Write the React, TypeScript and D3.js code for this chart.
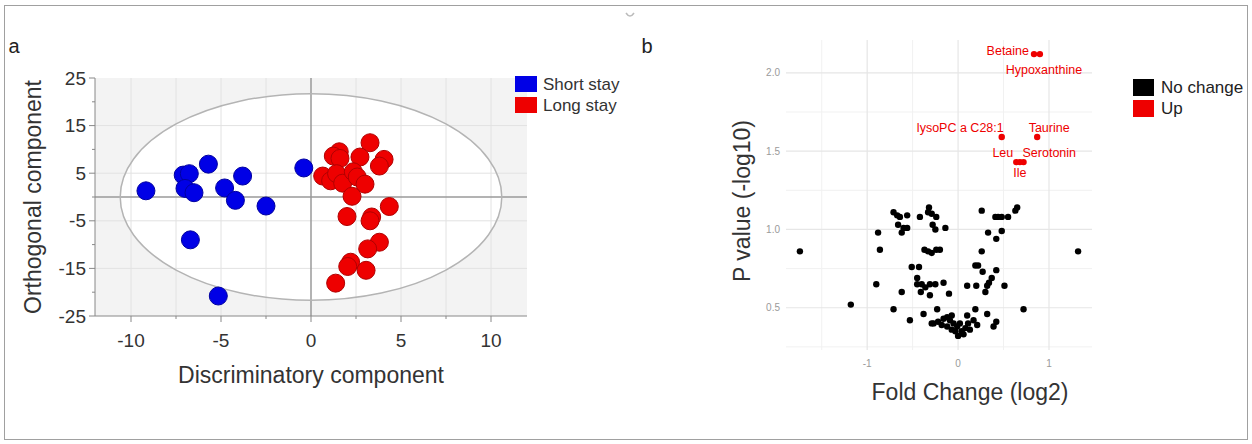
import * as d3 from "d3";

// panel a: OPLS-DA scores (discriminatory, orthogonal)
const shortStay: [number, number][] = [
  [-9.17, 1.3], [-7.1, 4.6], [-6.76, 4.9], [-5.7, 6.9], [-7.0, 1.8],
  [-6.5, 0.9], [-4.8, 1.9], [-3.8, 4.4], [-4.2, -0.7], [-2.5, -1.9],
  [-0.4, 6.1], [-6.7, -9.0], [-5.15, -20.8],
];
const longStay: [number, number][] = [
  [3.28, 11.4], [1.57, 9.5], [1.24, 8.6], [1.61, 8.1], [2.72, 8.4],
  [4.06, 7.9], [3.8, 6.5], [0.65, 4.4], [1.09, 3.4], [1.42, 4.9],
  [1.76, 2.9], [2.35, 5.3], [2.57, 4.2], [3.0, 2.7], [2.28, 0.15],
  [4.35, -2.0], [2.0, -4.1], [3.37, -4.2], [3.28, -5.0], [3.8, -9.5],
  [3.15, -10.9], [2.2, -13.7], [2.04, -14.6], [3.06, -15.4], [1.37, -18.1],
];
const scoreXDomain = [-12, 12];
const scoreYDomain = [-25, 25];
const scoreXTicks = [-10, -5, 0, 5, 10];
const scoreXMinor = [-7.5, -2.5, 2.5, 7.5];
const scoreYTicks = [25, 15, 5, -5, -15, -25];
const scoreYMinor = [20, 10, 0, -10, -20];
const hotelling = [10.6, 21.7]; // T2 ellipse radii
const groupsA = ["Short stay", "Long stay"];

// panel b: volcano (log2 fold change, -log10 p)
const noChange: [number, number][] = [
  [-1.74, 0.86], [-1.18, 0.52], [-0.9, 0.65], [-0.88, 0.98], [-0.86, 0.87],
  [-0.71, 1.11], [-0.67, 1.09], [-0.64, 1.08], [-0.56, 1.09], [-0.42, 1.08],
  [-0.32, 1.14], [-0.33, 1.11], [-0.29, 1.1], [-0.24, 1.08],
  [-0.66, 1.03], [-0.56, 1.01], [-0.6, 1.01], [-0.62, 0.98], [-0.28, 1.03],
  [-0.25, 1.0], [-0.14, 1.01],
  [-0.37, 0.87], [-0.33, 0.86], [-0.29, 0.85], [-0.24, 0.87], [-0.2, 0.87],
  [-0.51, 0.76], [-0.43, 0.76],
  [-0.45, 0.69], [-0.45, 0.65], [-0.4, 0.65], [-0.36, 0.63], [-0.31, 0.65],
  [-0.25, 0.65], [-0.41, 0.6], [-0.31, 0.58], [-0.16, 0.66], [-0.62, 0.6],
  [-0.1, 0.59], [0.1, 0.64],
  [-0.71, 0.49], [-0.53, 0.42], [-0.38, 0.46], [-0.23, 0.49], [-0.29, 0.4],
  [0.26, 1.12], [0.41, 1.08], [0.44, 1.08], [0.48, 1.08], [0.55, 1.08],
  [0.63, 1.12], [0.65, 1.14],
  [0.33, 0.98], [0.48, 0.99], [0.42, 0.94], [0.26, 0.86],
  [0.19, 0.77], [0.22, 0.77], [0.27, 0.73], [0.42, 0.74], [0.37, 0.69],
  [0.34, 0.66], [0.32, 0.64], [0.3, 0.6], [0.2, 0.64], [0.51, 0.64],
  [1.32, 0.86], [0.72, 0.49], [0.39, 0.38], [0.42, 0.41], [0.32, 0.46], [0.19, 0.49],
  [-0.27, 0.4], [-0.22, 0.41], [-0.18, 0.39], [-0.12, 0.44], [-0.09, 0.42],
  [-0.12, 0.38], [-0.07, 0.36], [-0.03, 0.35], [0.0, 0.32], [0.04, 0.35],
  [0.08, 0.37], [0.11, 0.4], [0.1, 0.45], [0.17, 0.42], [0.21, 0.39],
  [-0.05, 0.4], [-0.01, 0.38], [0.02, 0.4], [-0.07, 0.45], [-0.16, 0.43],
  [0.13, 0.36], [0.06, 0.33],
];
const upNames = ["Betaine", "Hypoxanthine", "lysoPC a C28:1", "Taurine", "Leu", "Serotonin", "Ile"];
const upFold = [0.835, 0.9, 0.48, 0.87, 0.64, 0.72, 0.68];
const upP = [2.12, 2.12, 1.59, 1.59, 1.43, 1.43, 1.43];
const volcanoXTicks = [-1, 0, 1];
const volcanoYTicks = [0.5, 1.0, 1.5, 2.0];
const groupsB = ["No change", "Up"];

// label placement (px offsets from the point)
const labelNudge: Record<string, { dx: number; dy: number; anchor: string }> = {
  Betaine: { dx: -5, dy: -3, anchor: "end" },
  Hypoxanthine: { dx: 4, dy: 16, anchor: "middle" },
  "lysoPC a C28:1": { dx: 2, dy: -9, anchor: "end" },
  Taurine: { dx: 12, dy: -9, anchor: "middle" },
  Leu: { dx: -3, dy: -9, anchor: "end" },
  Serotonin: { dx: -1, dy: -9, anchor: "start" },
  Ile: { dx: 0, dy: 11, anchor: "middle" },
};

const font = "'Liberation Sans', Arial, sans-serif";

function PanelA() {
  const x = d3.scaleLinear().domain(scoreXDomain).range([95, 527]);
  const y = d3.scaleLinear().domain(scoreYDomain).range([316, 78]);
  const color = d3.scaleOrdinal<string>().domain(groupsA).range(["#0000e6", "#ee0000"]);
  const stroke = d3.scaleOrdinal<string>().domain(groupsA).range(["#0000a0", "#b00000"]);
  const [x0, x1] = x.range();
  const [y0, y1] = y.range();
  const rx = x(hotelling[0]) - x(0);
  const ry = y(0) - y(hotelling[1]);

  return (
    <g>
      <rect x={x0} y={y1} width={x1 - x0} height={y0 - y1} fill="#f3f3f3" />
      <ellipse cx={x(0)} cy={y(0)} rx={rx} ry={ry} fill="#fff" />
      {[...scoreXTicks, ...scoreXMinor].filter((v) => v !== 0).map((v) => (
        <line key={"gx" + v} x1={x(v)} x2={x(v)} y1={y1} y2={y0} stroke="#e2e2e2" />
      ))}
      {scoreYTicks.filter((v) => v !== 25 && v !== -25).map((v) => (
        <line key={"gy" + v} x1={x0} x2={x1} y1={y(v)} y2={y(v)} stroke="#e2e2e2" />
      ))}
      <line x1={x(0)} x2={x(0)} y1={y1} y2={y0} stroke="#9a9a9a" strokeWidth={1.5} />
      <line x1={x0} x2={x1} y1={y(0)} y2={y(0)} stroke="#9a9a9a" strokeWidth={1.5} />
      <ellipse cx={x(0)} cy={y(0)} rx={rx} ry={ry} fill="none" stroke="#b4b4b4" strokeWidth={1.5} />

      {/* axes */}
      <line x1={x0} x2={x0} y1={y1} y2={y0} stroke="#888" />
      <line x1={x0} x2={x1} y1={y0} y2={y0} stroke="#888" />
      {scoreYTicks.map((v) => (
        <g key={"ty" + v}>
          <line x1={x0 - 6} x2={x0} y1={y(v)} y2={y(v)} stroke="#888" />
          <text x={x0 - 9} y={y(v)} dy="0.35em" textAnchor="end" fontSize={19} fill="#333" fontFamily={font}>
            {v}
          </text>
        </g>
      ))}
      {scoreYMinor.map((v) => (
        <line key={"my" + v} x1={x0 - 3} x2={x0} y1={y(v)} y2={y(v)} stroke="#888" />
      ))}
      {scoreXTicks.map((v) => (
        <g key={"tx" + v}>
          <line x1={x(v)} x2={x(v)} y1={y0} y2={y0 + 6} stroke="#888" />
          <text x={x(v)} y={y0 + 24} dy="0.35em" textAnchor="middle" fontSize={19} fill="#333" fontFamily={font}>
            {v}
          </text>
        </g>
      ))}
      {scoreXMinor.map((v) => (
        <line key={"mx" + v} x1={x(v)} x2={x(v)} y1={y0} y2={y0 + 3} stroke="#888" />
      ))}

      {shortStay.map(([a, b], i) => (
        <circle key={"s" + i} cx={x(a)} cy={y(b)} r={9} fill={color("Short stay")} stroke={stroke("Short stay")} />
      ))}
      {longStay.map(([a, b], i) => (
        <circle key={"l" + i} cx={x(a)} cy={y(b)} r={9} fill={color("Long stay")} stroke={stroke("Long stay")} />
      ))}

      <text x={(x0 + x1) / 2} y={375} dy="0.35em" textAnchor="middle" fontSize={23} fill="#333" fontFamily={font}>
        Discriminatory component
      </text>
      <text
        transform={`translate(33,${(y0 + y1) / 2}) rotate(-90)`}
        dy="0.35em"
        textAnchor="middle"
        fontSize={23}
        fill="#333"
        fontFamily={font}
      >
        Orthogonal component
      </text>

      {groupsA.map((g, i) => (
        <g key={g} transform={`translate(515,${76 + i * 21})`}>
          <rect width={22} height={16} fill={color(g)} />
          <text x={28} y={8} dy="0.35em" fontSize={17} fill="#333" fontFamily={font}>
            {g}
          </text>
        </g>
      ))}
    </g>
  );
}

function PanelB() {
  const allX = [...noChange.map((d) => d[0]), ...upFold];
  const allY = [...noChange.map((d) => d[1]), ...upP];
  const ex = d3.extent(allX) as [number, number];
  const ey = d3.extent(allY) as [number, number];
  const px = (ex[1] - ex[0]) * 0.05;
  const py = (ey[1] - ey[0]) * 0.05;
  const x = d3.scaleLinear().domain([ex[0] - px, ex[1] + px]).range([786, 1092]);
  const y = d3.scaleLinear().domain([ey[0] - py, ey[1] + py]).range([350, 40]);
  const color = d3.scaleOrdinal<string>().domain(groupsB).range(["#000", "#ee0000"]);
  const [x0, x1] = x.range();
  const [y0, y1] = y.range();
  const [dx0, dx1] = x.domain();
  const [dy0, dy1] = y.domain();
  const minorX = d3.range(Math.ceil(dx0 * 2) / 2, dx1, 0.5).filter((v) => !volcanoXTicks.includes(v));
  const minorY = d3.range(Math.ceil(dy0 * 4) / 4, dy1, 0.25).filter((v) => !volcanoYTicks.includes(v));

  return (
    <g>
      {minorX.map((v) => (
        <line key={"mx" + v} x1={x(v)} x2={x(v)} y1={y1} y2={y0} stroke="#f1f1f1" />
      ))}
      {minorY.map((v) => (
        <line key={"my" + v} x1={x0} x2={x1} y1={y(v)} y2={y(v)} stroke="#f1f1f1" />
      ))}
      {volcanoXTicks.map((v) => (
        <g key={"tx" + v}>
          <line x1={x(v)} x2={x(v)} y1={y1} y2={y0} stroke="#e6e6e6" strokeWidth={1.2} />
          <text x={x(v)} y={363} dy="0.35em" textAnchor="middle" fontSize={10} fill="#9a9a9a" fontFamily={font}>
            {v}
          </text>
        </g>
      ))}
      {volcanoYTicks.map((v) => (
        <g key={"ty" + v}>
          <line x1={x0} x2={x1} y1={y(v)} y2={y(v)} stroke="#e6e6e6" strokeWidth={1.2} />
          <text x={780} y={y(v)} dy="0.35em" textAnchor="end" fontSize={10} fill="#9a9a9a" fontFamily={font}>
            {v.toFixed(1)}
          </text>
        </g>
      ))}

      {noChange.map(([a, b], i) => (
        <circle key={"n" + i} cx={x(a)} cy={y(b)} r={3.2} fill={color("No change")} />
      ))}
      {upNames.map((n, i) => (
        <circle key={"u" + n} cx={x(upFold[i])} cy={y(upP[i])} r={3.2} fill={color("Up")} />
      ))}
      {upNames.map((n, i) => {
        const nd = labelNudge[n];
        return (
          <text
            key={"t" + n}
            x={x(upFold[i]) + nd.dx}
            y={y(upP[i]) + nd.dy}
            dy="0.35em"
            textAnchor={nd.anchor}
            fontSize={12.5}
            fill="#ee0000"
            fontFamily={font}
          >
            {n}
          </text>
        );
      })}

      <text x={970} y={392} dy="0.35em" textAnchor="middle" fontSize={23} fill="#333" fontFamily={font}>
        Fold Change (log2)
      </text>
      <text
        transform={`translate(742,201) rotate(-90)`}
        dy="0.35em"
        textAnchor="middle"
        fontSize={23}
        fill="#333"
        fontFamily={font}
      >
        P value (-log10)
      </text>

      {groupsB.map((g, i) => (
        <g key={g} transform={`translate(1133,${79 + i * 21})`}>
          <rect width={21} height={17} fill={color(g)} />
          <text x={28} y={8.5} dy="0.35em" fontSize={17} fill="#222" fontFamily={font}>
            {g}
          </text>
        </g>
      ))}
    </g>
  );
}

export default function App() {
  return (
    <svg
      width={1252}
      height={444}
      style={{ position: "absolute", left: 0, top: 0, background: "#fff" }}
    >
      <rect x={0} y={0} width={1252} height={444} fill="#fff" />
      <rect x={4.5} y={5.5} width={1243} height={434} fill="none" stroke="#a0a0a0" />
      <path d="M626,13 q4,6 8,0" fill="none" stroke="#bbb" strokeWidth={1.5} />
      <text x={14} y={46} dy="0.35em" textAnchor="middle" fontSize={20} fill="#222" fontFamily={font}>
        a
      </text>
      <text x={647} y={46} dy="0.35em" textAnchor="middle" fontSize={20} fill="#222" fontFamily={font}>
        b
      </text>
      <PanelA />
      <PanelB />
    </svg>
  );
}
